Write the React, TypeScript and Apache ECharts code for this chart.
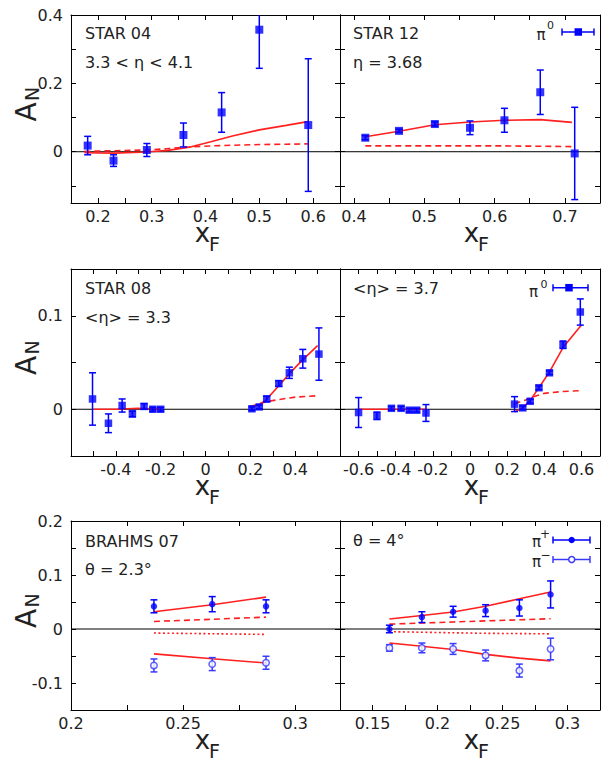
import React, { useEffect, useRef } from 'react';
import * as echarts from 'echarts';

// ===== Panel 1: STAR 04, 3.3 < η < 4.1 =====
const star04X = [0.181, 0.229, 0.291, 0.359, 0.43, 0.5, 0.591];
const star04Y = [0.018, -0.026, 0.005, 0.049, 0.115, 0.357, 0.078];
const star04Err = [0.027, 0.017, 0.019, 0.035, 0.058, 0.113, 0.194];
const star04CurveX = [0.175, 0.23, 0.29, 0.33, 0.37, 0.41, 0.45, 0.5, 0.55, 0.59];
const star04Solid = [-0.003, -0.004, -0.001, 0.004, 0.013, 0.029, 0.046, 0.064, 0.077, 0.088];
const star04Dashed = [0.001, 0.003, 0.005, 0.009, 0.014, 0.017, 0.019, 0.021, 0.022, 0.023];
const star04XLabels = [0.2, 0.3, 0.4, 0.5, 0.6];

// ===== Panel 2: STAR 12, η = 3.68 =====
const star12X = [0.416, 0.464, 0.515, 0.565, 0.614, 0.665, 0.714];
const star12Y = [0.041, 0.061, 0.081, 0.07, 0.092, 0.174, -0.005];
const star12Err = [0.006, 0.005, 0.006, 0.02, 0.035, 0.065, 0.135];
const star12CurveX = [0.416, 0.464, 0.515, 0.565, 0.614, 0.665, 0.71];
const star12Solid = [0.044, 0.06, 0.079, 0.087, 0.092, 0.094, 0.086];
const star12Dashed = [0.017, 0.017, 0.017, 0.017, 0.017, 0.016, 0.015];
const star12XLabels = [0.4, 0.5, 0.6, 0.7];
const row1YLabels = [0, 0.2, 0.4];

// ===== Panel 3: STAR 08, <η> = 3.3 =====
const star08X = [-0.504, -0.433, -0.372, -0.326, -0.274, -0.235, -0.2, 0.207, 0.24, 0.273, 0.327, 0.374, 0.434, 0.506];
const star08Y = [0.011, -0.015, 0.004, -0.005, 0.003, 0, 0, 0.0005, 0.0025, 0.011, 0.0275, 0.039, 0.054, 0.059];
const star08Err = [0.028, 0.01, 0.007, 0.003, 0.003, 0.002, 0.002, 0.002, 0.002, 0.003, 0.003, 0.006, 0.01, 0.028];
const star08NegCurveX = [-0.5, -0.4, -0.3, -0.2];
const star08NegSolid = [0, 0, 0.001, 0];
const star08PosCurveX = [0.2, 0.24, 0.27, 0.3, 0.33, 0.37, 0.43, 0.5];
const star08PosSolid = [0.002, 0.005, 0.01, 0.018, 0.026, 0.037, 0.052, 0.068];
const star08DashX = [0.2, 0.27, 0.33, 0.4, 0.5];
const star08Dashed = [0.003, 0.008, 0.0105, 0.013, 0.0145];
const star08XLabels = [-0.4, -0.2, 0, 0.2, 0.4];

// ===== Panel 4: STAR, <η> = 3.7 =====
const eta37X = [-0.6, -0.501, -0.423, -0.371, -0.327, -0.287, -0.237, 0.24, 0.284, 0.324, 0.371, 0.428, 0.501, 0.594];
const eta37Y = [-0.0035, -0.007, 0.001, 0.001, -0.001, -0.001, -0.004, 0.0055, 0.0015, 0.0085, 0.023, 0.039, 0.069, 0.104];
const eta37Err = [0.016, 0.004, 0.002, 0.002, 0.002, 0.002, 0.009, 0.008, 0.002, 0.002, 0.002, 0.002, 0.004, 0.014];
const eta37NegCurveX = [-0.6, -0.45, -0.3, -0.237];
const eta37NegSolid = [0, 0, 0, 0];
const eta37PosCurveX = [0.24, 0.284, 0.324, 0.371, 0.428, 0.501, 0.6];
const eta37PosSolid = [-0.003, 0.0015, 0.0095, 0.023, 0.04, 0.066, 0.09];
const eta37DashX = [0.24, 0.3, 0.35, 0.4, 0.5, 0.6];
const eta37Dashed = [0.006, 0.01, 0.014, 0.017, 0.019, 0.02];
const eta37XLabels = [-0.6, -0.4, -0.2, 0, 0.2, 0.4, 0.6];
const row2YLabels = [0, 0.1];

// ===== Panel 5: BRAHMS 07, θ = 2.3° =====
const brahms23X = [0.237, 0.263, 0.287];
const brahms23PipY = [0.042, 0.046, 0.042];
const brahms23PipErr = [0.012, 0.014, 0.012];
const brahms23PimY = [-0.0675, -0.065, -0.0625];
const brahms23PimErr = [0.012, 0.012, 0.012];
const brahms23CurveX = [0.237, 0.263, 0.287];
const brahms23PipSolid = [0.032, 0.045, 0.059];
const brahms23PimSolid = [-0.046, -0.055, -0.063];
const brahms23Dashed = [0.014, 0.018, 0.022];
const brahms23Dotted = [-0.0075, -0.0088, -0.01];
const brahms23XLabels = [0.2, 0.25, 0.3];

// ===== Panel 6: BRAHMS, θ = 4° =====
const brahms4X = [0.163, 0.188, 0.212, 0.237, 0.263, 0.287];
const brahms4PipY = [0, 0.022, 0.032, 0.034, 0.039, 0.064];
const brahms4PipErr = [0.007, 0.01, 0.01, 0.011, 0.015, 0.025];
const brahms4PimY = [-0.035, -0.035, -0.037, -0.049, -0.077, -0.037];
const brahms4PimErr = [0.006, 0.009, 0.01, 0.01, 0.012, 0.02];
const brahms4CurveX = [0.163, 0.188, 0.212, 0.237, 0.263, 0.287];
const brahms4PipSolid = [0.0185, 0.025, 0.0316, 0.042, 0.056, 0.0685];
const brahms4PimSolid = [-0.026, -0.032, -0.038, -0.047, -0.054, -0.059];
const brahms4Dashed = [0.009, 0.011, 0.013, 0.015, 0.017, 0.019];
const brahms4Dotted = [-0.005, -0.006, -0.007, -0.008, -0.0085, -0.009];
const brahms4XLabels = [0.15, 0.2, 0.25, 0.3];
const row3YLabels = [-0.1, 0, 0.1, 0.2];

const BLUE = '#0000ff';
const BLUE2 = '#3a3aff';
const RED = '#ff1f1f';
const FONT = 'DejaVu Sans';
const TXT = '#222';

type Pts = { x: number[]; y: number[]; err: number[]; kind: 'square' | 'dot' | 'ring'; size: number };
type Curve = { x: number[]; y: number[]; style: 'solid' | 'dashed' | 'dotted' };
type Panel = {
  left: number; top: number; width: number; height: number;
  xMin: number; xMax: number; xTick: number; xLabels: number[];
  yMin: number; yMax: number; yTick: number; yLabels: number[] | null;
  points: Pts[]; curves: Curve[];
};

const LX = 71, RX = 340, LW = 269, RW = 269;
const R1T = 15, R1H = 188, R2T = 269, R2H = 187, R3T = 521, R3H = 189;

const panels: Panel[] = [
  {
    left: LX, top: R1T, width: LW, height: R1H,
    xMin: 0.15, xMax: 0.65, xTick: 0.05, xLabels: star04XLabels,
    yMin: -0.15, yMax: 0.4, yTick: 0.1, yLabels: row1YLabels,
    points: [{ x: star04X, y: star04Y, err: star04Err, kind: 'square', size: 8 }],
    curves: [
      { x: star04CurveX, y: star04Dashed, style: 'dashed' },
      { x: star04CurveX, y: star04Solid, style: 'solid' },
    ],
  },
  {
    left: RX, top: R1T, width: RW, height: R1H,
    xMin: 0.38, xMax: 0.75, xTick: 0.05, xLabels: star12XLabels,
    yMin: -0.15, yMax: 0.4, yTick: 0.1, yLabels: null,
    points: [{ x: star12X, y: star12Y, err: star12Err, kind: 'square', size: 8 }],
    curves: [
      { x: star12CurveX, y: star12Dashed, style: 'dashed' },
      { x: star12CurveX, y: star12Solid, style: 'solid' },
    ],
  },
  {
    left: LX, top: R2T, width: LW, height: R2H,
    xMin: -0.6, xMax: 0.6, xTick: 0.1, xLabels: star08XLabels,
    yMin: -0.05, yMax: 0.15, yTick: 0.05, yLabels: row2YLabels,
    points: [{ x: star08X, y: star08Y, err: star08Err, kind: 'square', size: 7.5 }],
    curves: [
      { x: star08DashX, y: star08Dashed, style: 'dashed' },
      { x: star08NegCurveX, y: star08NegSolid, style: 'solid' },
      { x: star08PosCurveX, y: star08PosSolid, style: 'solid' },
    ],
  },
  {
    left: RX, top: R2T, width: RW, height: R2H,
    xMin: -0.7, xMax: 0.7, xTick: 0.1, xLabels: eta37XLabels,
    yMin: -0.05, yMax: 0.15, yTick: 0.05, yLabels: null,
    points: [{ x: eta37X, y: eta37Y, err: eta37Err, kind: 'square', size: 7.5 }],
    curves: [
      { x: eta37DashX, y: eta37Dashed, style: 'dashed' },
      { x: eta37NegCurveX, y: eta37NegSolid, style: 'solid' },
      { x: eta37PosCurveX, y: eta37PosSolid, style: 'solid' },
    ],
  },
  {
    left: LX, top: R3T, width: LW, height: R3H,
    xMin: 0.2, xMax: 0.32, xTick: 0.025, xLabels: brahms23XLabels,
    yMin: -0.15, yMax: 0.2, yTick: 0.05, yLabels: row3YLabels,
    points: [
      { x: brahms23X, y: brahms23PipY, err: brahms23PipErr, kind: 'dot', size: 6.5 },
      { x: brahms23X, y: brahms23PimY, err: brahms23PimErr, kind: 'ring', size: 6.5 },
    ],
    curves: [
      { x: brahms23CurveX, y: brahms23Dashed, style: 'dashed' },
      { x: brahms23CurveX, y: brahms23Dotted, style: 'dotted' },
      { x: brahms23CurveX, y: brahms23PipSolid, style: 'solid' },
      { x: brahms23CurveX, y: brahms23PimSolid, style: 'solid' },
    ],
  },
  {
    left: RX, top: R3T, width: RW, height: R3H,
    xMin: 0.125, xMax: 0.325, xTick: 0.025, xLabels: brahms4XLabels,
    yMin: -0.15, yMax: 0.2, yTick: 0.05, yLabels: null,
    points: [
      { x: brahms4X, y: brahms4PipY, err: brahms4PipErr, kind: 'dot', size: 6.5 },
      { x: brahms4X, y: brahms4PimY, err: brahms4PimErr, kind: 'ring', size: 6.5 },
    ],
    curves: [
      { x: brahms4CurveX, y: brahms4Dashed, style: 'dashed' },
      { x: brahms4CurveX, y: brahms4Dotted, style: 'dotted' },
      { x: brahms4CurveX, y: brahms4PipSolid, style: 'solid' },
      { x: brahms4CurveX, y: brahms4PimSolid, style: 'solid' },
    ],
  },
];

const labelFmt = (labels: number[]) => (v: number) => {
  const hit = labels.some((l) => Math.abs(l - v) < 1e-7);
  if (!hit) return '';
  const r = Math.round(v * 1000) / 1000;
  return r === 0 ? '0' : String(r);
};

const errRender = (color: string) => (params: any, api: any) => {
  const x = api.value(0);
  const y = api.value(1);
  const e = api.value(2);
  const cs = params.coordSys;
  const top = api.coord([x, y + e]);
  const bot = api.coord([x, y - e]);
  const y0 = cs.y;
  const y1 = cs.y + cs.height;
  const t = Math.max(top[1], y0);
  const b = Math.min(bot[1], y1);
  const cap = 3.5;
  const st = { stroke: color, lineWidth: 1.5 };
  const children: any[] = [
    { type: 'line', shape: { x1: top[0], y1: t, x2: top[0], y2: b }, style: st },
  ];
  if (top[1] >= y0) children.push({ type: 'line', shape: { x1: top[0] - cap, y1: t, x2: top[0] + cap, y2: t }, style: st });
  if (bot[1] <= y1) children.push({ type: 'line', shape: { x1: top[0] - cap, y1: b, x2: top[0] + cap, y2: b }, style: st });
  return { type: 'group', children };
};

function buildOption() {
  const grid: any[] = [];
  const xAxis: any[] = [];
  const yAxis: any[] = [];
  const series: any[] = [];
  const axisLine = { show: true, onZero: false, lineStyle: { color: '#000', width: 1 } };
  const axisTick = { show: true, inside: true, length: 5, lineStyle: { color: '#000', width: 1 } };
  panels.forEach((p, i) => {
    grid.push({ left: p.left, top: p.top, width: p.width, height: p.height });
    const xb = {
      type: 'value', gridIndex: i, min: p.xMin, max: p.xMax,
      minInterval: p.xTick, maxInterval: p.xTick, splitNumber: 8,
      splitLine: { show: false }, axisLine, axisTick,
    };
    xAxis.push({
      ...xb, position: 'bottom',
      axisLabel: { show: true, formatter: labelFmt(p.xLabels), margin: 5, fontSize: 16, fontFamily: FONT, color: TXT },
    });
    xAxis.push({ ...xb, position: 'top', axisLabel: { show: false } });
    const yb = {
      type: 'value', gridIndex: i, min: p.yMin, max: p.yMax,
      minInterval: p.yTick, maxInterval: p.yTick, splitNumber: 6,
      splitLine: { show: false }, axisLine, axisTick,
    };
    yAxis.push({
      ...yb, position: 'left',
      axisLabel: p.yLabels
        ? { show: true, formatter: labelFmt(p.yLabels), margin: 8, fontSize: 16, fontFamily: FONT, color: TXT }
        : { show: false },
    });
    yAxis.push({ ...yb, position: 'right', axisLabel: { show: false } });

    const xi = 2 * i;
    // zero line
    series.push({
      type: 'line', xAxisIndex: xi, yAxisIndex: xi, silent: true, symbol: 'none', z: 1,
      data: [[p.xMin, 0], [p.xMax, 0]],
      lineStyle: { color: '#000', width: 1 },
    });
    p.curves.forEach((c) => {
      series.push({
        type: 'line', xAxisIndex: xi, yAxisIndex: xi, silent: true, symbol: 'none', z: 2,
        data: c.x.map((v, k) => [v, c.y[k]]),
        lineStyle: {
          color: RED,
          width: 1.6,
          type: c.style === 'dashed' ? [6, 4] : c.style === 'dotted' ? [2, 2.5] : 'solid',
        },
      });
    });
    p.points.forEach((pt) => {
      const col = pt.kind === 'ring' ? BLUE2 : BLUE;
      series.push({
        type: 'custom', xAxisIndex: xi, yAxisIndex: xi, silent: true, z: 3,
        encode: { x: 0, y: 1 },
        data: pt.x.map((v, k) => [v, pt.y[k], pt.err[k]]),
        renderItem: errRender(col),
      });
      series.push({
        type: 'scatter', xAxisIndex: xi, yAxisIndex: xi, silent: true, z: 4,
        symbol: pt.kind === 'square' ? 'rect' : 'circle',
        symbolSize: pt.size,
        data: pt.x.map((v, k) => [v, pt.y[k]]),
        itemStyle: pt.kind === 'ring'
          ? { color: '#ffffff', borderColor: BLUE2, borderWidth: 1.5 }
          : { color: BLUE },
      });
    });
  });

  const txt = (text: string, x: number, y: number, size = 16, extra: any = {}) => ({
    type: 'text', x, y, z: 10,
    style: { text, fontSize: size, fontFamily: extra.family || FONT, fill: TXT, align: extra.align || 'left', verticalAlign: 'middle' },
    rotation: extra.rotation || 0,
  });

  const graphic: any[] = [
    txt('STAR 04', 85, 33), txt('3.3 < η < 4.1', 85, 62),
    txt('STAR 12', 353, 33), txt('η = 3.68', 353, 62),
    txt('STAR 08', 85, 288), txt('<η> = 3.3', 85, 317),
    txt('<η> = 3.7', 353, 288),
    txt('BRAHMS 07', 85, 541), txt('θ = 2.3°', 85, 569),
    txt('θ = 4°', 353, 540),
  ];

  // axis titles
  const rows = [[R1T, R1H], [R2T, R2H], [R3T, R3H]];
  rows.forEach(([t, h]) => {
    const mid = t + h / 2;
    graphic.push(txt('A', 26, mid + 3, 28, { align: 'center', rotation: Math.PI / 2 }));
    graphic.push(txt('N', 31.5, mid - 15, 19, { align: 'center', rotation: Math.PI / 2 }));
    const bot = t + h;
    [[LX, LW], [RX, RW]].forEach(([l, w]) => {
      const cx = l + w / 2;
      graphic.push(txt('x', cx - 3, bot + 30, 26, { align: 'center' }));
      graphic.push(txt('F', cx + 9, bot + 41, 19, { align: 'center' }));
    });
  });

  // legends
  const legLine = (x1: number, x2: number, y: number, color: string) => {
    const st = { stroke: color, lineWidth: 1.5 };
    return [
      { type: 'line', z: 10, shape: { x1, y1: y, x2, y2: y }, style: st },
      { type: 'line', z: 10, shape: { x1, y1: y - 3.5, x2: x1, y2: y + 3.5 }, style: st },
      { type: 'line', z: 10, shape: { x1: x2, y1: y - 3.5, x2, y2: y + 3.5 }, style: st },
    ];
  };
  graphic.push(txt('π', 541, 35, 15, { align: 'center' }));
  graphic.push(txt('0', 550.5, 25, 11, { align: 'center' }));
  graphic.push(...legLine(562, 594, 32, BLUE));
  graphic.push({ type: 'rect', z: 11, shape: { x: 578.3 - 3.75, y: 32 - 3.75, width: 7.5, height: 7.5 }, style: { fill: BLUE } });

  graphic.push(txt('π', 533.5, 291.5, 15, { align: 'center' }));
  graphic.push(txt('0', 544, 284, 11, { align: 'center' }));
  graphic.push(...legLine(553, 588, 287.7, BLUE));
  graphic.push({ type: 'rect', z: 11, shape: { x: 569 - 3.75, y: 287.7 - 3.75, width: 7.5, height: 7.5 }, style: { fill: BLUE } });

  graphic.push(txt('π', 536.5, 542, 15, { align: 'center' }));
  graphic.push(txt('+', 545, 534, 12, { align: 'center' }));
  graphic.push(...legLine(553, 590, 540, BLUE));
  graphic.push({ type: 'circle', z: 11, shape: { cx: 571.7, cy: 540, r: 3.2 }, style: { fill: BLUE } });

  graphic.push(txt('π', 536.5, 562, 15, { align: 'center' }));
  graphic.push(txt('−', 545.5, 555, 12, { align: 'center' }));
  graphic.push(...legLine(553, 590, 559.5, BLUE2));
  graphic.push({ type: 'circle', z: 11, shape: { cx: 571.7, cy: 559.5, r: 3 }, style: { fill: '#fff', stroke: BLUE2, lineWidth: 1.5 } });

  return {
    animation: false,
    backgroundColor: '#ffffff',
    textStyle: { fontFamily: FONT },
    grid, xAxis, yAxis, series, graphic,
  };
}

export default function App() {
  const ref = useRef<HTMLDivElement>(null);
  useEffect(() => {
    if (!ref.current) return;
    const chart = echarts.init(ref.current, undefined, { renderer: 'svg' });
    chart.setOption(buildOption() as any);
    return () => chart.dispose();
  }, []);
  return (
    <div
      ref={ref}
      style={{ position: 'absolute', left: 0, top: 0, width: 603, height: 762 }}
    />
  );
}
